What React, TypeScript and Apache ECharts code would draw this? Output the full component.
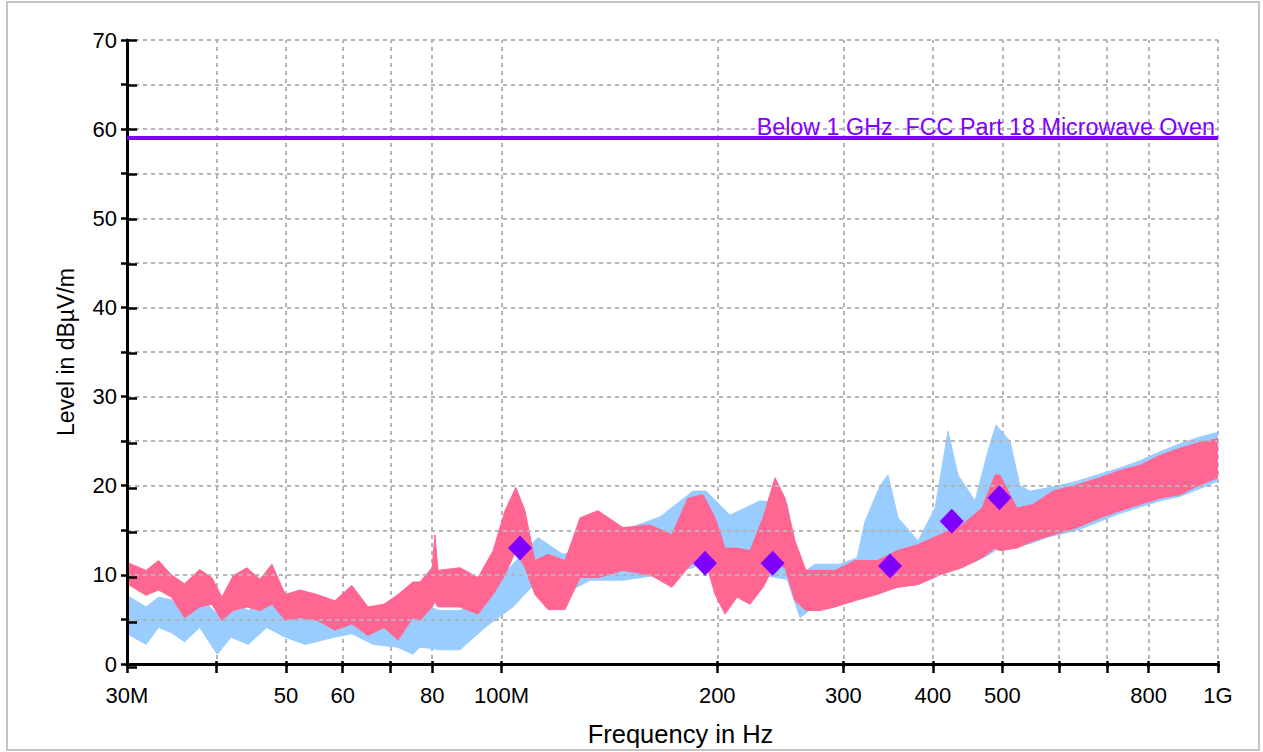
import React, { useEffect, useRef } from "react";
import * as echarts from "echarts";

const FONT = 'Arial, "Liberation Sans", Helvetica, sans-serif';

// Axis ticks / labels / grid lines (MHz)
const xTickMHz = [30, 40, 50, 60, 70, 80, 100, 200, 300, 400, 500, 600, 700, 800, 1000];
const xGridMHz = [40, 50, 60, 70, 80, 100, 200, 300, 400, 500, 600, 700, 800, 1000];
const xLabelMHz = [30, 50, 60, 80, 100, 200, 300, 400, 500, 800, 1000];
const xLabelSpecial: Record<number, string> = { 30: "30M", 100: "100M", 1000: "1G" };
const yMin = 0;
const yMax = 70;
const yStep = 5;

// Pink trace envelope (MHz, dBµV/m)
const pinkFreq = [30, 31.9, 33.2, 34.6, 36.1, 37.9, 39.4, 40.7, 42.2, 44.1, 46.0, 47.8, 49.9, 52.3, 55.3, 58.5, 61.8, 65.1, 68.5, 71.7, 75.2, 76.9, 80.0, 80.7, 81.5, 87.5, 92.7, 97.3, 101.1, 104.7, 107.8, 111.3, 116.1, 122.6, 128.7, 136.3, 147.7, 161.1, 172.9, 182.0, 191.0, 198.6, 205.1, 213.1, 222.2, 231.7, 240.8, 248.7, 256.8, 266.0, 278.3, 292.0, 311.4, 334.2, 356.4, 381.4, 409.3, 439.2, 468.4, 488.3, 496.2, 524.0, 551.7, 588.5, 635.6, 684.5, 729.8, 778.2, 830.0, 885.1, 937.8, 1000];
const pinkHigh = [11.4, 10.5, 11.6, 10.0, 9.0, 10.6, 9.7, 7.5, 9.9, 10.8, 9.5, 11.2, 7.8, 8.3, 7.8, 7.1, 8.8, 6.4, 6.7, 7.8, 9.2, 9.2, 10.8, 14.5, 10.5, 10.8, 9.7, 12.7, 17.2, 19.8, 17.2, 11.6, 12.3, 11.6, 16.4, 17.2, 15.3, 15.6, 14.5, 18.6, 19.0, 16.4, 13.0, 13.0, 12.7, 16.4, 20.9, 18.6, 13.8, 10.5, 10.5, 10.5, 11.6, 11.6, 12.7, 13.4, 14.5, 15.6, 17.5, 21.2, 21.2, 17.5, 17.9, 19.4, 20.1, 20.9, 21.7, 22.3, 23.4, 24.2, 24.8, 25.3];
const pinkLow = [9.0, 7.7, 8.3, 7.5, 5.2, 6.4, 6.7, 4.9, 6.0, 6.4, 6.0, 6.7, 4.9, 5.2, 4.9, 3.8, 4.5, 3.2, 4.1, 2.7, 5.2, 4.9, 6.4, 7.0, 6.4, 6.4, 5.6, 7.8, 10.0, 12.7, 10.8, 7.8, 6.1, 6.1, 9.7, 9.7, 10.5, 10.0, 8.6, 10.8, 12.5, 7.8, 5.6, 7.5, 6.7, 8.6, 11.2, 10.8, 7.1, 6.0, 6.0, 6.4, 7.1, 7.8, 8.6, 8.9, 10.0, 10.8, 11.9, 13.0, 12.7, 13.0, 13.8, 14.5, 15.3, 16.4, 17.2, 17.9, 18.6, 19.0, 20.0, 20.9];

// Blue trace envelope (MHz, dBµV/m)
const blueFreq = [30, 31.9, 33.2, 34.6, 36.1, 37.9, 40.1, 41.9, 44.3, 47.0, 49.9, 53.2, 58.4, 61.8, 66.2, 71.5, 75.2, 76.9, 82.0, 87.5, 94.8, 103.7, 112.4, 121.8, 132.9, 147.7, 166.4, 185.0, 192.9, 208.3, 229.5, 250.3, 261.0, 273.8, 296.7, 313.4, 321.6, 337.5, 346.2, 357.6, 381.4, 402.8, 419.9, 433.6, 458.0, 477.5, 489.9, 512.4, 529.1, 546.4, 582.8, 635.6, 684.5, 729.8, 778.2, 830.0, 885.1, 937.8, 1000];
const blueHigh = [7.7, 6.4, 7.5, 7.2, 5.6, 7.5, 5.6, 7.1, 6.0, 7.5, 6.4, 6.7, 6.7, 7.5, 5.2, 5.2, 5.2, 6.7, 6.0, 6.0, 7.8, 11.2, 14.2, 12.3, 13.0, 15.0, 16.5, 19.4, 19.4, 16.7, 18.3, 18.0, 10.0, 11.2, 11.2, 11.9, 16.0, 20.0, 21.2, 16.4, 13.8, 17.5, 26.1, 21.2, 18.3, 23.9, 26.8, 25.0, 20.0, 19.4, 19.8, 20.5, 21.3, 22.0, 22.8, 23.8, 24.7, 25.4, 26.0];
const blueLow = [3.4, 2.2, 4.1, 3.5, 2.5, 4.1, 1.1, 3.0, 2.2, 4.1, 3.0, 2.2, 3.0, 3.4, 2.2, 1.9, 1.1, 1.9, 1.6, 1.6, 4.1, 6.4, 9.4, 7.8, 9.4, 9.4, 10.0, 10.8, 11.6, 8.3, 10.0, 9.5, 5.2, 6.5, 7.0, 7.5, 7.8, 8.0, 8.3, 8.6, 9.0, 9.8, 10.5, 11.0, 11.5, 12.2, 12.8, 13.0, 13.3, 13.5, 14.3, 15.0, 16.0, 16.9, 17.6, 18.3, 18.8, 19.6, 20.5];

// Final measurement peaks
const peakFreq = [106.1, 192.3, 239.0, 348.5, 425.0, 495.3];
const peakLevel = [13.0, 11.3, 11.3, 11.0, 16.0, 18.65];

// Limit line
const limitLevel = 59;
const limitText = "Below 1 GHz  FCC Part 18 Microwave Oven";

const PINK = "#ff6692";
const BLUE = "#99ccff";
const PURPLE = "#8000ff";
const GRID = "#b4b4b4";

const lg = (mhz: number) => Math.log10(mhz);

function bandSeries(name: string, freq: number[], lo: number[], hi: number[], color: string) {
  return {
    type: "custom",
    name,
    xAxisIndex: 0,
    yAxisIndex: 0,
    clip: true,
    silent: true,
    z: 2,
    data: freq.map((f, i) => [lg(f), lo[i], hi[i]]),
    encode: { x: 0, y: [1, 2] },
    renderItem: (params: any, api: any) => {
      if (params.dataIndex !== 0) return null;
      const top = freq.map((f, i) => api.coord([lg(f), hi[i]]));
      const bot = freq.map((f, i) => api.coord([lg(f), lo[i]])).reverse();
      return {
        type: "polygon",
        shape: { points: top.concat(bot) },
        style: { fill: color, stroke: color, lineWidth: 1 },
      };
    },
  };
}

export default function App() {
  const ref = useRef<HTMLDivElement>(null);
  useEffect(() => {
    if (!ref.current) return;
    const chart = echarts.init(ref.current, undefined, { renderer: "svg" });
    const xMin = lg(30);
    const xMax = lg(1000);
    const tickVals = xTickMHz.map(lg);
    const gridVals = xGridMHz.map(lg);
    const labelVals = xLabelMHz.map(lg);
    const gridPos = { left: 127, right: 45, top: 40, bottom: 85 };
    const plotH = 752 - 40 - 85;
    const hiddenY = (gridIndex: number, tick: any) => ({
      type: "value",
      gridIndex,
      min: yMin,
      max: yMax,
      interval: yStep,
      axisLine: { show: false },
      axisTick: tick,
      axisLabel: { show: false },
      splitLine: { show: false },
    });
    const option: any = {
      animation: false,
      backgroundColor: "#ffffff",
      textStyle: { fontFamily: FONT },
      grid: [
        { ...gridPos, containLabel: false },
        { ...gridPos, containLabel: false },
        { ...gridPos, containLabel: false },
      ],
      xAxis: [
        {
          type: "value",
          gridIndex: 0,
          min: xMin,
          max: xMax,
          z: 3,
          name: "Frequency in Hz",
          nameLocation: "middle",
          nameGap: 57,
          nameTextStyle: { fontSize: 25.5, color: "#000", fontFamily: FONT, padding: [0, 0, 0, 16] },
          axisLine: { show: true, onZero: false, lineStyle: { color: "#000", width: 3 } },
          axisTick: { show: true, inside: false, length: 9, customValues: tickVals, lineStyle: { color: "#000", width: 2.5 } },
          axisLabel: {
            show: true,
            customValues: labelVals,
            margin: 20,
            fontSize: 22,
            color: "#000",
            fontFamily: FONT,
            formatter: (v: number) => {
              const m = Math.round(Math.pow(10, v));
              return xLabelSpecial[m] ?? String(m);
            },
          },
          splitLine: { show: false },
        },
        {
          type: "value",
          gridIndex: 1,
          min: xMin,
          max: xMax,
          z: 3,
          axisLine: { show: false },
          axisTick: { show: true, inside: true, length: 6, customValues: tickVals, lineStyle: { color: "#000", width: 2.5 } },
          axisLabel: { show: false },
          splitLine: { show: false },
        },
        {
          // vertical dotted grid lines at the frequency ticks
          type: "value",
          gridIndex: 2,
          min: xMin,
          max: xMax,
          z: 0,
          axisLine: { show: false },
          axisTick: { show: true, inside: true, length: plotH, customValues: gridVals, lineStyle: { color: GRID, width: 2, type: [4, 4] } },
          axisLabel: { show: false },
          splitLine: { show: false },
        },
      ],
      yAxis: [
        {
          type: "value",
          gridIndex: 0,
          min: yMin,
          max: yMax,
          interval: yStep,
          z: 3,
          name: "Level in dBµV/m",
          nameLocation: "middle",
          nameGap: 50,
          nameTextStyle: { fontSize: 23, color: "#000", fontFamily: FONT },
          axisLine: { show: true, onZero: false, lineStyle: { color: "#000", width: 3 } },
          axisTick: { show: true, inside: false, length: 6, lineStyle: { color: "#000", width: 2.5 } },
          axisLabel: {
            margin: 10,
            fontSize: 22,
            color: "#000",
            fontFamily: FONT,
            formatter: (v: number) => (v % 10 === 0 ? String(v) : ""),
          },
          splitLine: { show: true, lineStyle: { color: GRID, width: 2, type: [4, 4] } },
        },
        { ...hiddenY(1, { show: true, inside: true, length: 10, lineStyle: { color: "#000", width: 2.5 } }), z: 3 },
        hiddenY(2, { show: false }),
      ],
      series: [
        bandSeries("Trace 2", blueFreq, blueLow, blueHigh, BLUE),
        bandSeries("Trace 1", pinkFreq, pinkLow, pinkHigh, PINK),
        {
          type: "scatter",
          name: "Final",
          xAxisIndex: 0,
          yAxisIndex: 0,
          symbol: "diamond",
          symbolSize: [24, 25],
          itemStyle: { color: PURPLE, opacity: 1 },
          z: 5,
          data: peakFreq.map((f, i) => [lg(f), peakLevel[i]]),
          markLine: {
            silent: true,
            symbol: "none",
            animation: false,
            lineStyle: { color: PURPLE, width: 4, type: "solid" },
            label: {
              show: true,
              position: "insideEndTop",
              distance: [3, 0],
              formatter: limitText,
              color: PURPLE,
              fontSize: 23.3,
              fontFamily: FONT,
            },
            data: [{ yAxis: limitLevel }],
          },
        },
      ],
      graphic: [
        {
          type: "rect",
          silent: true,
          z: -10,
          shape: { x: 7, y: 2, width: 1252, height: 748 },
          style: { fill: "none", stroke: "#c4c4c4", lineWidth: 2 },
        },
      ],
    };
    chart.setOption(option);
    return () => chart.dispose();
  }, []);
  return (
    <div style={{ position: "absolute", left: 0, top: 0, width: 1263, height: 752, background: "#fff" }}>
      <div ref={ref} style={{ width: 1263, height: 752 }} />
    </div>
  );
}
